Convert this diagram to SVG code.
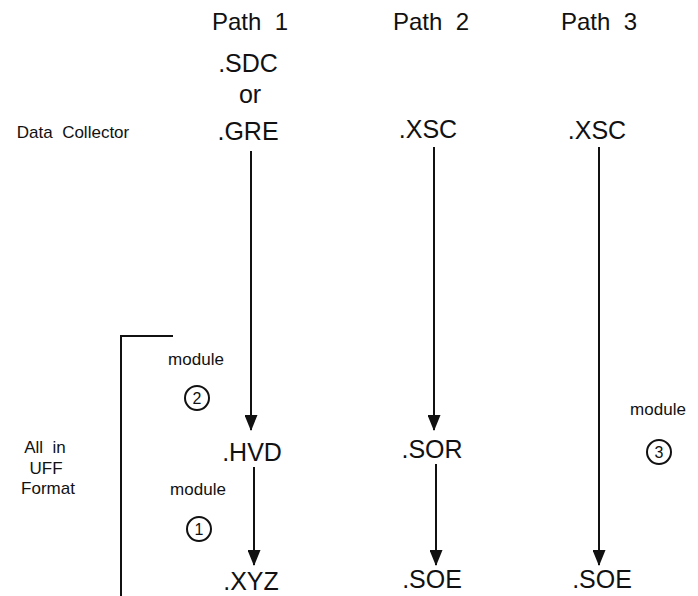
<svg xmlns="http://www.w3.org/2000/svg" width="698" height="596" viewBox="0 0 698 596">
<style>
text{font-family:"Liberation Sans",Arial,sans-serif;fill:#111;}
.hdr{font-size:24px;text-anchor:middle;}
.node{font-size:25px;text-anchor:middle;}
.lbl{font-size:17px;text-anchor:middle;}
.num{font-size:16px;text-anchor:middle;}
.ln{stroke:#111;stroke-width:2;fill:none;}
.circ{stroke:#111;stroke-width:2;fill:none;}
</style>
<defs>
<marker id="arr" markerWidth="16" markerHeight="13" refX="15" refY="6.5" orient="auto" markerUnits="userSpaceOnUse" viewBox="0 0 16 13">
<path d="M0,0 L16,6.5 L0,13 Z" fill="#111"/>
</marker>
</defs>
<g id="headers">
<text class="hdr" x="250" y="30" xml:space="preserve">Path  1</text>
<text class="hdr" x="431" y="30" xml:space="preserve">Path  2</text>
<text class="hdr" x="599" y="30" xml:space="preserve">Path  3</text>
</g>
<g id="label-data-collector"><text class="lbl" x="73" y="138" xml:space="preserve">Data  Collector</text></g>
<g id="label-uff">
<text class="lbl" x="45" y="453" xml:space="preserve">All  in</text>
<text class="lbl" x="46" y="474">UFF</text>
<text class="lbl" x="48" y="494">Format</text>
</g>
<g id="node-sdc-gre">
<text class="node" x="248" y="72">.SDC</text>
<text class="node" x="250" y="103">or</text>
<text class="node" x="248" y="140">.GRE</text>
</g>
<g id="node-xsc2"><text class="node" x="428" y="138">.XSC</text></g>
<g id="node-xsc3"><text class="node" x="597" y="139">.XSC</text></g>
<g id="node-hvd"><text class="node" x="252" y="461">.HVD</text></g>
<g id="node-sor"><text class="node" x="432" y="458">.SOR</text></g>
<g id="node-xyz"><text class="node" x="251" y="590">.XYZ</text></g>
<g id="node-soe2"><text class="node" x="432" y="588">.SOE</text></g>
<g id="node-soe3"><text class="node" x="602" y="588">.SOE</text></g>
<g id="module-2">
<text class="lbl" x="196" y="365">module</text>
<circle class="circ" cx="197" cy="398" r="12"/>
<text class="num" x="197" y="404">2</text>
</g>
<g id="module-1">
<text class="lbl" x="198" y="495">module</text>
<circle class="circ" cx="199" cy="529" r="12"/>
<text class="num" x="199" y="535">1</text>
</g>
<g id="module-3">
<text class="lbl" x="658" y="415">module</text>
<circle class="circ" cx="659" cy="452" r="12"/>
<text class="num" x="659" y="458">3</text>
</g>
<g id="connectors">
<line class="ln" x1="251" y1="151" x2="251" y2="430" marker-end="url(#arr)"/>
<line class="ln" x1="254" y1="467" x2="254" y2="565" marker-end="url(#arr)"/>
<line class="ln" x1="434" y1="147" x2="434" y2="430" marker-end="url(#arr)"/>
<line class="ln" x1="436" y1="464" x2="436" y2="565" marker-end="url(#arr)"/>
<line class="ln" x1="599" y1="147" x2="599" y2="565" marker-end="url(#arr)"/>
<path class="ln" d="M173,336 H121 V596"/>
</g>
</svg>
